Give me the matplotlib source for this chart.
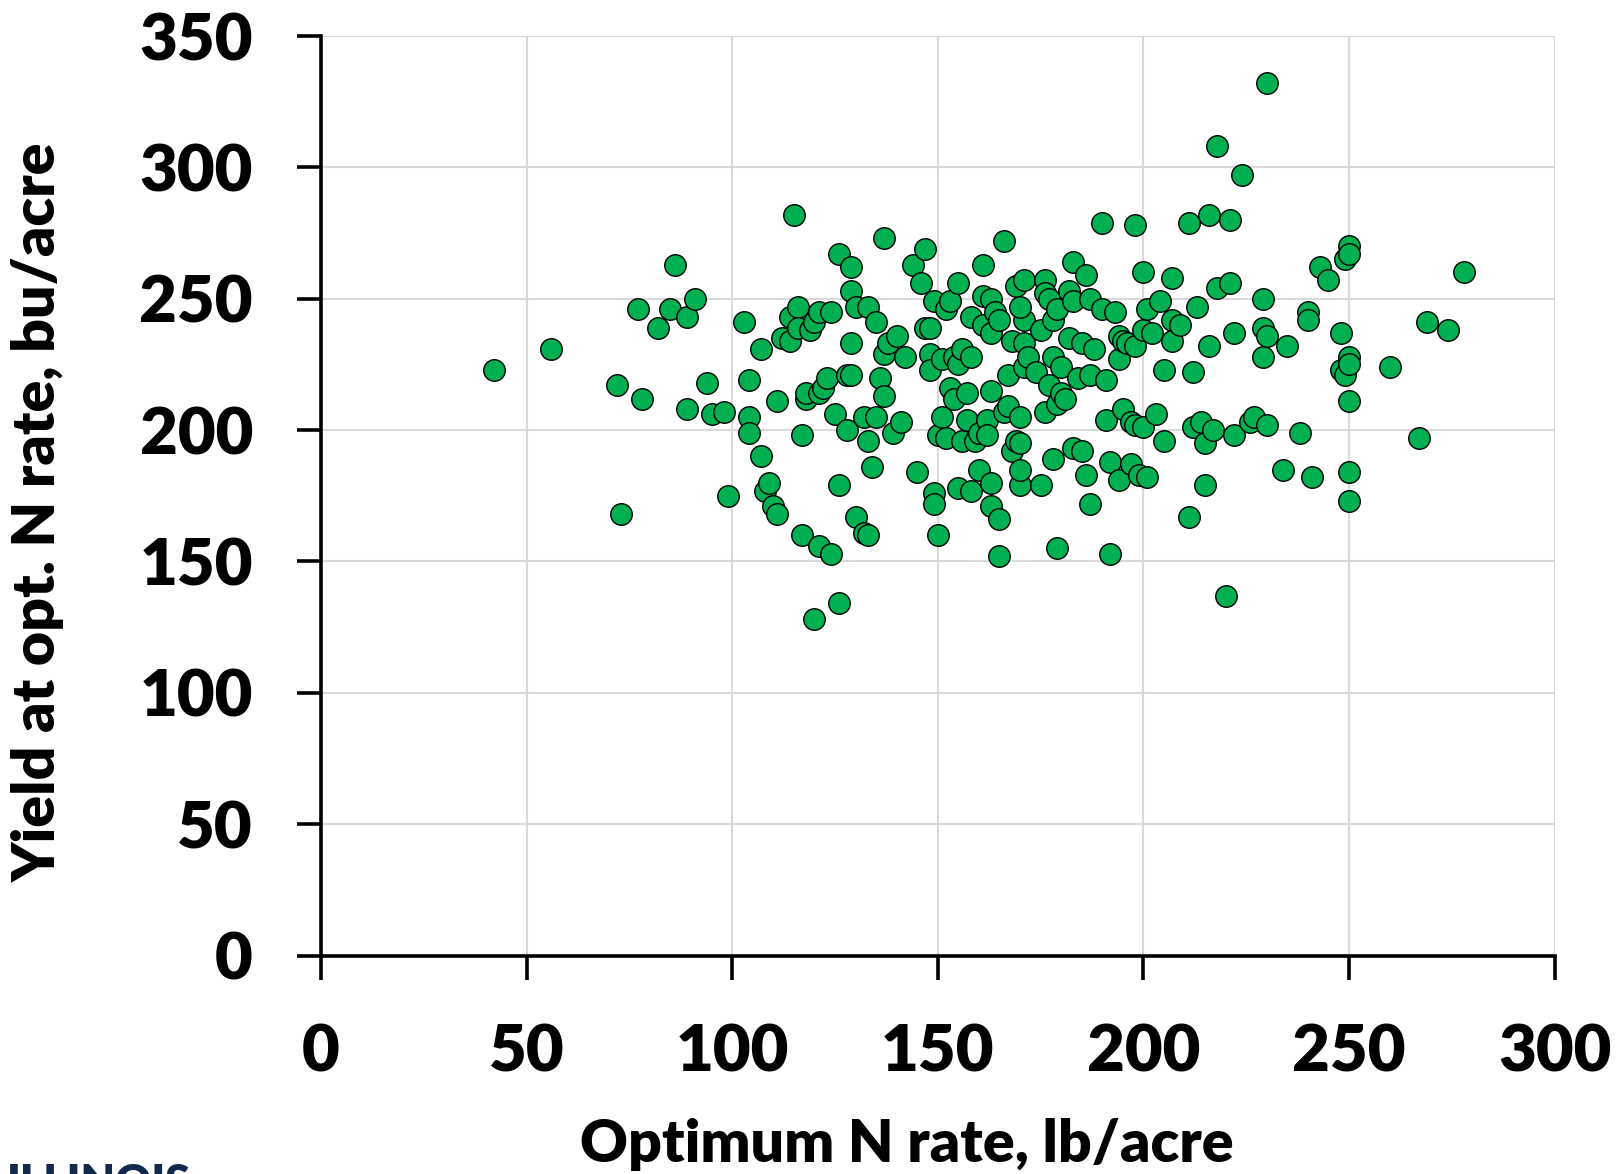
import numpy as np
import matplotlib
matplotlib.use("Agg")
import matplotlib.pyplot as plt

# -----------------------------
# Data
# -----------------------------

n_rate = [
    42, 56, 72, 73, 77, 78, 82, 85, 86, 89, 91, 89, 94, 95, 98, 99,
    103, 104, 104, 104, 107, 107, 108, 109, 110, 111, 111, 112, 114, 114,
    115, 116, 116, 117, 117, 118, 118, 119, 120, 120, 121, 121, 121, 122,
    123, 124, 124, 125, 126, 126, 126, 128, 129, 129, 129, 129, 128, 130,
    130, 132, 132, 133, 133, 133, 134, 135, 135, 136, 137, 137, 137, 138,
    139, 140, 141, 142, 144, 145, 146, 147, 147, 148, 148, 148, 149, 149,
    149, 150, 150, 151, 151, 152, 152, 153, 153, 154, 154, 155, 155, 155,
    156, 156, 157, 157, 158, 158, 158, 159, 160, 160, 161, 161, 161, 162,
    162, 163, 163, 163, 163, 163, 164, 165, 165, 166, 165, 166, 167, 167,
    168, 168, 169, 169, 170, 170, 170, 170, 171, 171, 171, 170, 171, 172,
    174, 175, 175, 176, 176, 176, 177, 177, 178, 178, 178, 179, 179, 180,
    179, 180, 181, 182, 182, 183, 183, 183, 184, 185, 185, 186, 186, 187,
    187, 187, 188, 190, 190, 191, 191, 192, 192, 193, 194, 194, 194, 195,
    195, 196, 197, 197, 198, 198, 198, 199, 200, 200, 200, 201, 201, 202,
    203, 204, 205, 205, 207, 207, 207, 209, 211, 211, 212, 212, 213, 214,
    215, 215, 216, 216, 217, 218, 218, 220, 221, 221, 222, 222, 224, 226,
    227, 229, 229, 229, 230, 230, 230, 234, 235, 238, 240, 240, 241, 243,
    245, 248, 248, 249, 249, 250, 250, 250, 250, 250, 250, 250, 260, 267,
    269, 274, 278,
]

yield_opt = [
    223, 231, 217, 168, 246, 212, 239, 246, 263, 243, 250, 208, 218, 206, 207, 175,
    241, 219, 205, 199, 231, 190, 177, 180, 171, 168, 211, 235, 243, 234,
    282, 247, 239, 160, 198, 212, 214, 238, 241, 128, 245, 214, 156, 216,
    220, 153, 245, 206, 267, 134, 179, 221, 262, 253, 233, 221, 200, 247,
    167, 205, 161, 247, 196, 160, 186, 241, 205, 220, 273, 213, 229, 233,
    199, 236, 203, 228, 263, 184, 256, 269, 239, 239, 229, 223, 176, 172,
    249, 198, 160, 205, 227, 246, 197, 216, 249, 212, 228, 178, 256, 225,
    231, 196, 214, 204, 228, 177, 243, 196, 185, 199, 263, 251, 240, 204,
    198, 215, 180, 171, 237, 250, 245, 152, 166, 272, 242, 207, 221, 209,
    192, 234, 255, 196, 205, 195, 179, 185, 257, 242, 233, 247, 224, 228,
    222, 238, 179, 257, 207, 252, 250, 217, 228, 189, 242, 210, 155, 214,
    246, 224, 212, 235, 253, 193, 264, 249, 220, 192, 233, 259, 183, 172,
    221, 250, 231, 279, 246, 219, 204, 153, 188, 245, 227, 236, 181, 208,
    234, 233, 187, 203, 278, 202, 232, 183, 238, 260, 201, 182, 246, 237,
    206, 249, 196, 223, 242, 258, 234, 240, 167, 279, 201, 222, 247, 203,
    179, 195, 282, 232, 200, 308, 254, 137, 280, 256, 237, 198, 297, 203,
    205, 250, 228, 239, 236, 202, 332, 185, 232, 199, 245, 242, 182, 262,
    257, 237, 223, 265, 221, 270, 267, 228, 225, 211, 184, 173, 224, 197,
    241, 238, 260,
]

x_ticks = [0, 50, 100, 150, 200, 250, 300]
y_ticks = [0, 50, 100, 150, 200, 250, 300, 350]

# -----------------------------
# Plot
# -----------------------------

font = ["Lato", "DejaVu Sans"]

fig = plt.figure(figsize=(16.16, 11.74), dpi=100)
ax = fig.add_axes([0.1986, 0.1861, 0.7634, 0.7832])

ax.scatter(n_rate, yield_opt, s=240, color="#00B050", edgecolor="black",
           linewidth=1.0, zorder=3)

ax.set_xlim(0, 300)
ax.set_ylim(0, 350)
ax.set_xticks(x_ticks)
ax.set_yticks(y_ticks)
ax.grid(True, color="#D9D9D9", linewidth=1.5, zorder=0)
ax.set_axisbelow(True)

for side in ["top", "right"]:
    ax.spines[side].set_visible(False)
for side in ["left", "bottom"]:
    ax.spines[side].set_linewidth(2.6)

ax.tick_params(axis="both", direction="out", length=17, width=2.6, pad=32)
for lab in ax.get_xticklabels() + ax.get_yticklabels():
    lab.set_fontfamily(font)
    lab.set_fontweight("heavy")
    lab.set_fontsize(47)

ax.set_xlabel("Optimum N rate, lb/acre", fontfamily=font, fontweight="heavy",
              fontsize=42.5, va="center")
ax.set_ylabel("Yield at opt. N rate, bu/acre", fontfamily=font,
              fontweight="heavy", fontsize=42.5, va="center")
ax.xaxis.set_label_coords(0.475, -0.205)
ax.yaxis.set_label_coords(-0.229, 0.482)

fig.text(0.004, 0.0094, "ILLINOIS", color="#13294B", fontfamily=font,
         fontweight="heavy", fontsize=32, va="top", ha="left")

fig.savefig("out.png", dpi=100)
